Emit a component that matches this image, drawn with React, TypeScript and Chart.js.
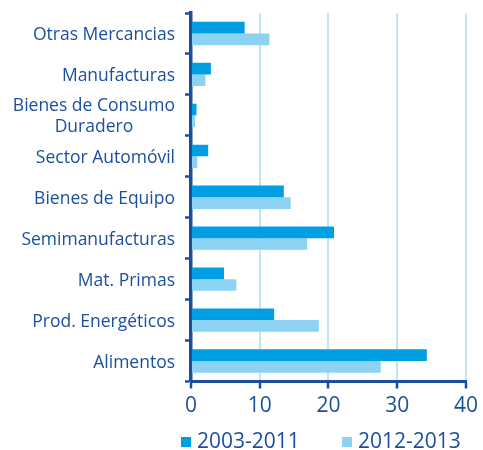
import React, { useEffect, useRef } from "react";
import { Chart, registerables } from "chart.js";

Chart.register(...registerables);

const categories: string[][] = [
  ["Otras Mercancias"],
  ["Manufacturas"],
  ["Bienes de Consumo", "Duradero"],
  ["Sector Automóvil"],
  ["Bienes de Equipo"],
  ["Semimanufacturas"],
  ["Mat. Primas"],
  ["Prod. Energéticos"],
  ["Alimentos"],
];
const series2003_2011 = [7.8, 2.9, 0.8, 2.5, 13.5, 20.8, 4.8, 12.1, 34.3];
const series2012_2013 = [11.4, 2.1, 0.6, 0.9, 14.5, 16.9, 6.6, 18.6, 27.6];
const seriesNames = ["2003-2011", "2012-2013"];
const xTicks = [0, 10, 20, 30, 40];

const DARK = "#1b4f9e";
const BAR1 = "#009fe3";
const BAR2 = "#8cd2f3";
const GRID = "#bfe6f6";
const FONT = "'Open Sans', 'Noto Sans', sans-serif";

const labelPlugin = {
  id: "customLabels",
  afterDraw(chart: any) {
    const ctx = chart.ctx;
    const y = chart.scales.y;
    ctx.save();
    ctx.fillStyle = DARK;
    ctx.font = `17.5px ${FONT}`;
    ctx.textBaseline = "middle";
    ctx.textAlign = "center";
    const rightX = 175;
    const lh = 21;
    categories.forEach((lines, i) => {
      const cy = y.getPixelForValue(i) + 1.5;
      const maxW = Math.max(...lines.map((l) => ctx.measureText(l).width));
      const cx = rightX - maxW / 2;
      const startY = cy - ((lines.length - 1) * lh) / 2;
      lines.forEach((l, k) => ctx.fillText(l, cx, startY + k * lh));
    });
    // legend
    ctx.font = `21px ${FONT}`;
    ctx.textAlign = "left";
    const items = [
      { x: 181, color: BAR1, text: seriesNames[0] },
      { x: 342, color: BAR2, text: seriesNames[1] },
    ];
    const ly = 442;
    items.forEach((it) => {
      ctx.fillStyle = it.color;
      ctx.fillRect(it.x, ly - 5, 10, 10);
      ctx.fillStyle = DARK;
      ctx.fillText(it.text, it.x + 16, ly);
    });
    ctx.restore();
  },
};

export default function App() {
  const ref = useRef<HTMLCanvasElement>(null);
  useEffect(() => {
    if (!ref.current) return;
    const chart = new Chart(ref.current, {
      type: "bar",
      data: {
        labels: categories.map((c) => c.join(" ")),
        datasets: [
          {
            label: seriesNames[0],
            data: series2003_2011,
            backgroundColor: BAR1,
            categoryPercentage: 0.57,
            barPercentage: 1.0,
          },
          {
            label: seriesNames[1],
            data: series2012_2013,
            backgroundColor: BAR2,
            categoryPercentage: 0.57,
            barPercentage: 1.0,
          },
        ],
      },
      options: {
        indexAxis: "y",
        animation: false,
        responsive: false,
        maintainAspectRatio: false,
        layout: { padding: { top: 13, right: 14, bottom: 0, left: 0 } },
        plugins: {
          legend: { display: false },
          tooltip: { enabled: false },
        },
        scales: {
          x: {
            min: 0,
            max: 40,
            afterBuildTicks: (scale: any) => {
              scale.ticks = xTicks.map((v) => ({ value: v }));
            },
            afterFit: (scale: any) => {
              scale.height = 68.5;
            },
            border: { display: true, color: DARK, width: 3 },
            grid: {
              color: GRID,
              lineWidth: 2,
              drawTicks: true,
              tickLength: 7,
              tickColor: DARK,
              tickWidth: 2.5,
            },
            ticks: {
              color: DARK,
              font: { size: 21, family: FONT },
              padding: 5,
              maxRotation: 0,
            },
          },
          y: {
            offset: true,
            afterFit: (scale: any) => {
              scale.width = 191;
            },
            border: { display: true, color: DARK, width: 3.5 },
            grid: {
              display: true,
              offset: true,
              drawOnChartArea: false,
              drawTicks: true,
              tickLength: 6,
              tickColor: DARK,
              tickWidth: 2.5,
            },
            ticks: { display: false },
          },
        },
      },
      plugins: [labelPlugin],
    });
    return () => chart.destroy();
  }, []);
  return (
    <div style={{ position: "absolute", left: 0, top: 0, width: 483, height: 450, background: "#fff" }}>
      <canvas ref={ref} width={483} height={450} style={{ display: "block" }} />
    </div>
  );
}
